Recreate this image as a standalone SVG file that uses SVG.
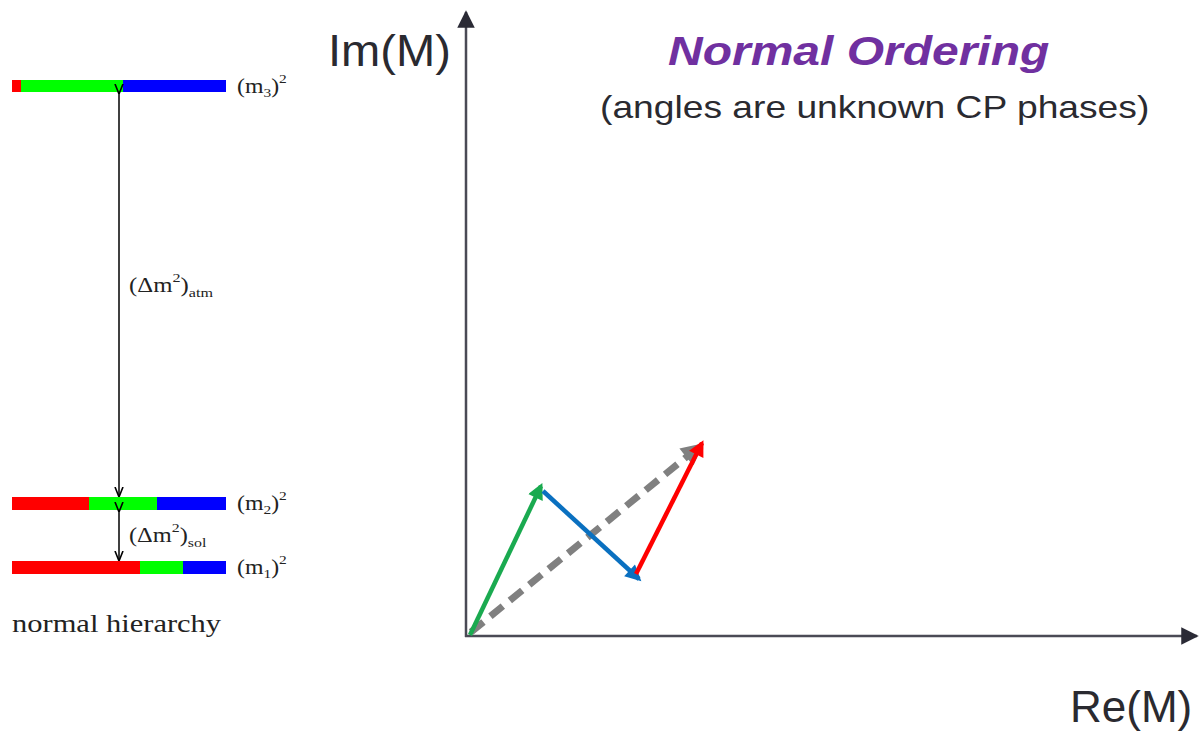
<svg xmlns="http://www.w3.org/2000/svg" width="1199" height="733" viewBox="0 0 1199 733">
<style>
.lvl{font-family:"Liberation Serif",serif;font-size:20px;fill:#222}
.sub{font-size:13px}
.ax{stroke:#4a4a55;stroke-width:2.5;fill:none}
.big{font-family:"Liberation Sans",Arial,sans-serif;font-size:44px;fill:#2a2a30}
</style>
<defs>
<marker id="ahAx" viewBox="0 0 10 10" refX="9" refY="5" markerWidth="7" markerHeight="7" markerUnits="strokeWidth" orient="auto"><path d="M0,0 L10,5 L0,10 z" fill="#2a2a35"/></marker>
<marker id="ahK" viewBox="0 0 10 10" refX="9" refY="5" markerWidth="10" markerHeight="10" markerUnits="userSpaceOnUse" orient="auto"><path d="M0,1 L10,5 L0,9" fill="none" stroke="#000" stroke-width="1.6"/></marker>
<marker id="ahG" viewBox="0 0 10 10" refX="8" refY="5" markerWidth="18" markerHeight="16" markerUnits="userSpaceOnUse" orient="auto"><path d="M0,0 L10,5 L0,10 z" fill="#1aaa50"/></marker>
<marker id="ahB" viewBox="0 0 10 10" refX="8" refY="5" markerWidth="18" markerHeight="16" markerUnits="userSpaceOnUse" orient="auto"><path d="M0,0 L10,5 L0,10 z" fill="#0a70c0"/></marker>
<marker id="ahR" viewBox="0 0 10 10" refX="8" refY="5" markerWidth="18" markerHeight="16" markerUnits="userSpaceOnUse" orient="auto"><path d="M0,0 L10,5 L0,10 z" fill="#ff0000"/></marker>
<marker id="ahGr" viewBox="0 0 10 10" refX="8" refY="5" markerWidth="24" markerHeight="22" markerUnits="userSpaceOnUse" orient="auto"><path d="M0,0 L10,5 L0,10 z" fill="#808080"/></marker>
</defs>

<g id="level-m3">
<rect x="12" y="80" width="9" height="12" fill="#ff0000"/>
<rect x="21" y="80" width="102" height="12" fill="#00ff00"/>
<rect x="123" y="80" width="103" height="12" fill="#0000ff"/>
<text class="lvl" transform="translate(237,93) scale(1.19,1)">(m<tspan class="sub" dy="4">3</tspan><tspan dy="-4">)</tspan><tspan class="sub" dy="-10">2</tspan></text>
</g>
<g id="level-m2">
<rect x="12" y="497" width="77" height="13" fill="#ff0000"/>
<rect x="89" y="497" width="68" height="13" fill="#00ff00"/>
<rect x="157" y="497" width="69" height="13" fill="#0000ff"/>
<text class="lvl" transform="translate(237,510) scale(1.19,1)">(m<tspan class="sub" dy="4">2</tspan><tspan dy="-4">)</tspan><tspan class="sub" dy="-10">2</tspan></text>
</g>
<g id="level-m1">
<rect x="12" y="561" width="128" height="13" fill="#ff0000"/>
<rect x="140" y="561" width="43" height="13" fill="#00ff00"/>
<rect x="183" y="561" width="43" height="13" fill="#0000ff"/>
<text class="lvl" transform="translate(237,574) scale(1.19,1)">(m<tspan class="sub" dy="4">1</tspan><tspan dy="-4">)</tspan><tspan class="sub" dy="-10">2</tspan></text>
</g>
<g id="label-atm"><text class="lvl" transform="translate(129,292) scale(1.24,1)">(Δm<tspan class="sub" dy="-10">2</tspan><tspan dy="10">)</tspan><tspan class="sub" dy="5">atm</tspan></text></g>
<g id="label-sol"><text class="lvl" transform="translate(129,542) scale(1.22,1)">(Δm<tspan class="sub" dy="-10">2</tspan><tspan dy="10">)</tspan><tspan class="sub" dy="5">sol</tspan></text></g>
<g id="caption"><text transform="translate(12,632) scale(1.22,1)" style="font-family:'Liberation Serif',serif;font-size:25px;fill:#222">normal hierarchy</text></g>

<g id="connectors">
<line x1="119" y1="93" x2="119" y2="496" stroke="#000" stroke-width="1.5" marker-start="url(#ahK)" marker-end="url(#ahK)"/>
<line x1="119" y1="511" x2="119" y2="560" stroke="#000" stroke-width="1.5" marker-start="url(#ahK)" marker-end="url(#ahK)"/>
<line class="ax" x1="466" y1="637" x2="466" y2="12" marker-end="url(#ahAx)"/>
<line class="ax" x1="465" y1="636" x2="1197" y2="636" marker-end="url(#ahAx)"/>
<line x1="471" y1="632" x2="700" y2="446" stroke="#808080" stroke-width="7" stroke-dasharray="16 9" marker-end="url(#ahGr)"/>
<line x1="470" y1="635" x2="541" y2="486" stroke="#1aaa50" stroke-width="4.5" marker-end="url(#ahG)"/>
<line x1="543" y1="491" x2="639" y2="579" stroke="#0a70c0" stroke-width="4.5" marker-end="url(#ahB)"/>
<line x1="636" y1="574" x2="702" y2="443" stroke="#ff0000" stroke-width="4.5" marker-end="url(#ahR)"/>
</g>

<g id="axis-labels">
<text class="big" transform="translate(328,66) scale(1.07,1)">Im(M)</text>
<text class="big" transform="translate(1070,722)">Re(M)</text>
</g>
<g id="title">
<text transform="translate(668,65) scale(1.2,1)" style="font-family:'Liberation Sans',Arial,sans-serif;font-size:40px;font-weight:bold;font-style:italic;fill:#7030a0">Normal Ordering</text>
<text transform="translate(600,118) scale(1.2,1)" style="font-family:'Liberation Sans',Arial,sans-serif;font-size:31px;fill:#2a2a30">(angles are unknown CP phases)</text>
</g>
</svg>
